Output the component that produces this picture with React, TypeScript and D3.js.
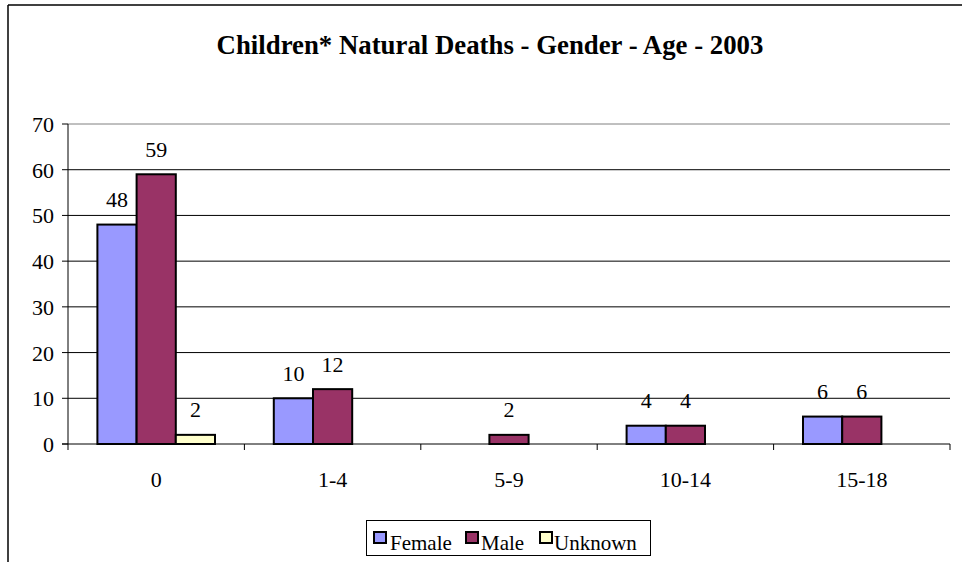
import React from "react";
import * as d3 from "d3";

const categories = ["0", "1-4", "5-9", "10-14", "15-18"];
const seriesNames = ["Female", "Male", "Unknown"];
const female = [48, 10, 0, 4, 6];
const male = [59, 12, 2, 4, 6];
const unknown = [2, 0, 0, 0, 0];
const yTicks = [0, 10, 20, 30, 40, 50, 60, 70];
const colors = ["#9999FF", "#993366", "#FFFFCC"];
const title = "Children* Natural Deaths - Gender - Age - 2003";

const W = 962;
const H = 562;
const left = 68;
const right = 950;
const top = 124;
const bottom = 444;
const font = '"Times New Roman"';

export default function App() {
  const series = [female, male, unknown];
  const x = d3.scaleBand<string>().domain(categories).range([left, right]).paddingInner(0).paddingOuter(0);
  const bw = x.bandwidth() / 4.5;
  const y = d3.scaleLinear().domain([0, 70]).range([bottom, top]);

  const bars: React.ReactNode[] = [];
  const labels: React.ReactNode[] = [];
  categories.forEach((c, ci) => {
    const x0 = (x(c) as number) + bw * 0.75;
    series.forEach((s, si) => {
      const v = s[ci];
      if (v <= 0) return;
      const bx = x0 + si * bw;
      bars.push(
        <rect key={`b${ci}-${si}`} x={bx} y={y(v)} width={bw} height={bottom - y(v)}
          fill={colors[si]} stroke="#000" strokeWidth={2} />
      );
      labels.push(
        <text key={`l${ci}-${si}`} x={bx + bw / 2} y={y(v) - 17.5} textAnchor="middle"
          fontSize={22} fontFamily={font} fill="#000">{v}</text>
      );
    });
  });

  const legendItems = [
    { name: seriesNames[0], x: 374, tx: 390 },
    { name: seriesNames[1], x: 466, tx: 481 },
    { name: seriesNames[2], x: 540, tx: 554 },
  ];

  return (
    <svg width={W} height={H} style={{ position: "absolute", left: 0, top: 0 }}>
      <rect x={0} y={0} width={W} height={H} fill="#fff" />
      <line x1={8} y1={5} x2={W} y2={5} stroke="#000" strokeWidth={1.5} />
      <line x1={8} y1={5} x2={8} y2={H} stroke="#000" strokeWidth={1.5} />
      <text x={490} y={54} textAnchor="middle" fontSize={26.8} fontWeight="bold" fontFamily={font}>{title}</text>
      {yTicks.filter((t) => t > 0).map((t) => (
        <line key={`g${t}`} x1={left} x2={right} y1={y(t)} y2={y(t)}
          stroke={t === 70 ? "#808080" : "#000"} strokeWidth={1} />
      ))}
      <line x1={left} x2={left} y1={top} y2={bottom} stroke="#000" strokeWidth={1} />
      {yTicks.map((t) => (
        <g key={`yt${t}`}>
          <line x1={left - 6} x2={left} y1={y(t)} y2={y(t)} stroke="#000" />
          <text x={54} y={y(t) + 8} textAnchor="end" fontSize={22} fontFamily={font}>{t}</text>
        </g>
      ))}
      {bars}
      <line x1={left - 6} x2={right} y1={bottom} y2={bottom} stroke="#000" strokeWidth={1} />
      {categories.map((c) => (
        <line key={`xt${c}`} x1={x(c) as number} x2={x(c) as number} y1={bottom} y2={bottom + 6} stroke="#000" />
      ))}
      <line x1={right} x2={right} y1={bottom} y2={bottom + 6} stroke="#000" />
      {categories.map((c) => (
        <text key={`xl${c}`} x={(x(c) as number) + x.bandwidth() / 2} y={487} textAnchor="middle"
          fontSize={22} fontFamily={font}>{c}</text>
      ))}
      {labels}
      <rect x={366.5} y={520.5} width={284} height={35} fill="#fff" stroke="#000" strokeWidth={1} />
      {legendItems.map((it, i) => (
        <g key={`lg${i}`}>
          <rect x={it.x} y={532} width={12} height={11} fill={colors[i]} stroke="#000" strokeWidth={2} />
          <text x={it.tx} y={550} fontSize={21} fontFamily={font}>{it.name}</text>
        </g>
      ))}
    </svg>
  );
}
